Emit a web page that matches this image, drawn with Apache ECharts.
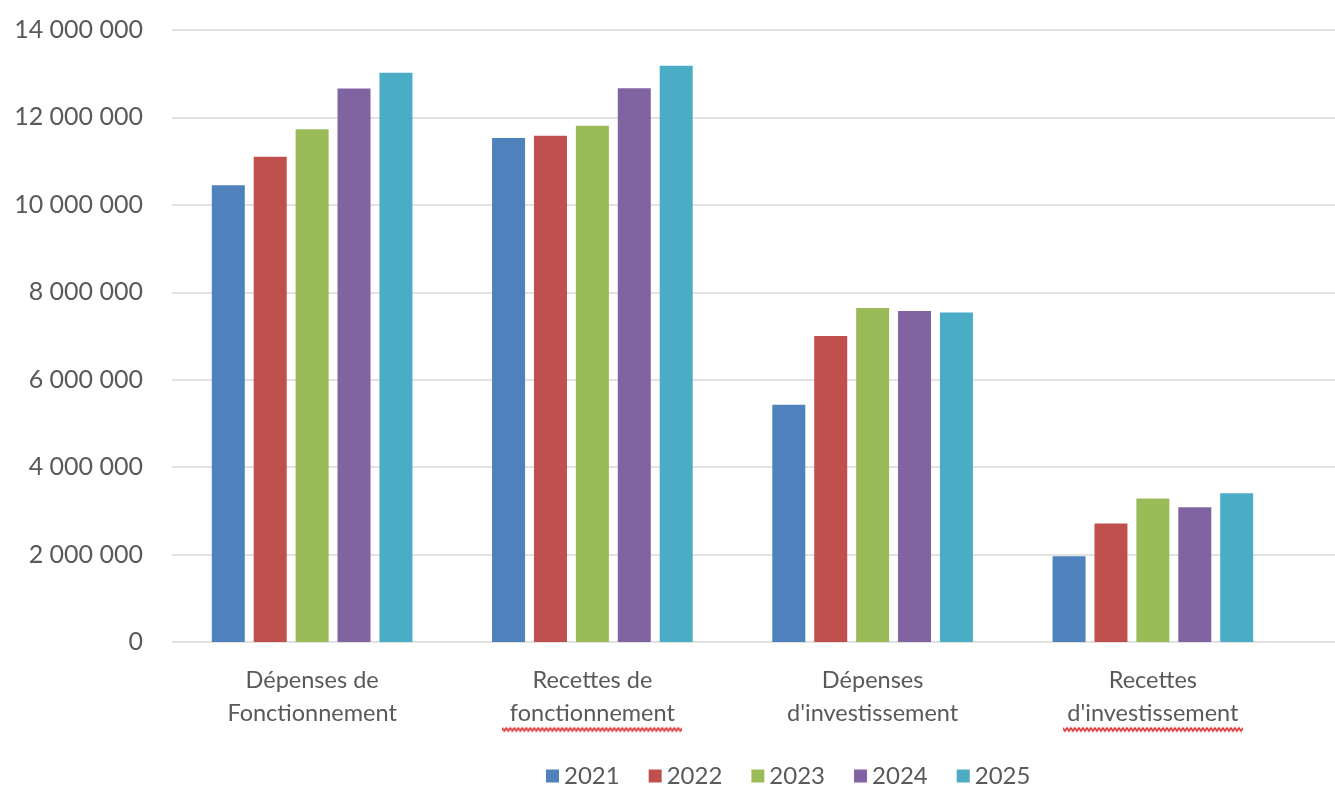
<!DOCTYPE html>
<html>
<head>
<meta charset="utf-8">
<script src="https://cdn.jsdelivr.net/npm/echarts@6/dist/echarts.min.js"></script>
<style>
  html, body { margin: 0; padding: 0; background: #ffffff; }
  #chart { width: 1335px; height: 785px; }
</style>
</head>
<body>
<div id="chart"></div>
<script>
// Budget categories (two lines each) and which second lines carry a red spell-check squiggle
const categories = [
  ['Dépenses de', 'Fonctionnement'],
  ['Recettes de', 'fonctionnement'],
  ['Dépenses', "d'investissement"],
  ['Recettes', "d'investissement"]
];
const squiggled = [false, true, false, true];

const years = ['2021', '2022', '2023', '2024', '2025'];
const values2021 = [10450000, 11530000, 5430000, 1960000];
const values2022 = [11100000, 11580000, 7000000, 2710000];
const values2023 = [11730000, 11810000, 7640000, 3280000];
const values2024 = [12660000, 12670000, 7570000, 3080000];
const values2025 = [13020000, 13180000, 7540000, 3400000];
const seriesValues = [values2021, values2022, values2023, values2024, values2025];
const colors = ['#4F81BD', '#C0504D', '#9BBB59', '#8064A2', '#4BACC6'];

const yMin = 0, yMax = 14000000, yStep = 2000000;

const fontFamily = 'Lato, "Open Sans", sans-serif';
const textColor = '#595959';
const gridColor = '#d9d9d9';

// Red wavy underline used as the background of a rich-text fragment
function makeWave(w, h) {
  const c = document.createElement('canvas');
  c.width = w; c.height = h;
  const ctx = c.getContext('2d');
  ctx.strokeStyle = '#e0262b';
  ctx.lineWidth = 1.6;
  ctx.lineJoin = 'round';
  ctx.beginPath();
  const yBase = h - 3;
  for (let x = 0; x <= w; x += 2) {
    const y = yBase + ((x / 2) % 2 === 0 ? -1.6 : 1.6);
    if (x === 0) ctx.moveTo(x, y); else ctx.lineTo(x, y);
  }
  ctx.stroke();
  return c;
}
const wave = makeWave(180, 38);

function formatThousands(v) {
  return String(v).replace(/\B(?=(\d{3})+(?!\d))/g, ' ');
}

const chart = echarts.init(document.getElementById('chart'), null, { renderer: 'canvas' });

const option = {
  backgroundColor: '#ffffff',
  animation: false,
  color: colors,
  legend: {
    data: years,
    left: 541,
    top: 759,
    icon: 'rect',
    itemWidth: 13,
    itemHeight: 13,
    itemGap: 29,
    textStyle: { color: textColor, fontSize: 24, fontFamily: fontFamily }
  },
  grid: [
    // full-width grid carrying the value axis and its gridlines
    { left: 172, right: 0, top: 30, bottom: 143 },
    // grid for the bars
    { left: 172, right: 42, top: 30, bottom: 143 }
  ],
  xAxis: [
    { type: 'category', gridIndex: 0, data: ['-'], show: false },
    {
      type: 'category',
      gridIndex: 1,
      data: categories.map(c => c.join('\n')),
      axisLine: { show: false },
      axisTick: { show: false },
      axisLabel: {
        margin: 22,
        interval: 0,
        formatter: function (v, i) {
          const lines = categories[i];
          const second = squiggled[i] ? '{w|' + lines[1] + '}' : '{n|' + lines[1] + '}';
          return '{n|' + lines[0] + '}\n' + second;
        },
        rich: {
          n: { fontSize: 23.5, fontFamily: fontFamily, color: textColor, lineHeight: 33 },
          w: { fontSize: 23.5, fontFamily: fontFamily, color: textColor, lineHeight: 33, height: 38,
               backgroundColor: { image: wave } }
        }
      }
    }
  ],
  yAxis: [
    {
      type: 'value',
      gridIndex: 0,
      min: yMin, max: yMax, interval: yStep,
      axisLine: { show: false },
      axisTick: { show: false },
      splitLine: { show: true, lineStyle: { color: gridColor, width: 1.5 } },
      axisLabel: {
        margin: 29,
        color: textColor,
        fontSize: 25,
        fontFamily: fontFamily,
        formatter: formatThousands
      }
    },
    {
      type: 'value',
      gridIndex: 1,
      min: yMin, max: yMax, interval: yStep,
      show: false,
      splitLine: { show: false }
    }
  ],
  series: years.map((y, k) => ({
    name: y,
    type: 'bar',
    xAxisIndex: 1,
    yAxisIndex: 1,
    barWidth: 33,
    barGap: '27%',
    itemStyle: { color: colors[k] },
    data: seriesValues[k]
  }))
};

chart.setOption(option);
</script>
</body>
</html>
